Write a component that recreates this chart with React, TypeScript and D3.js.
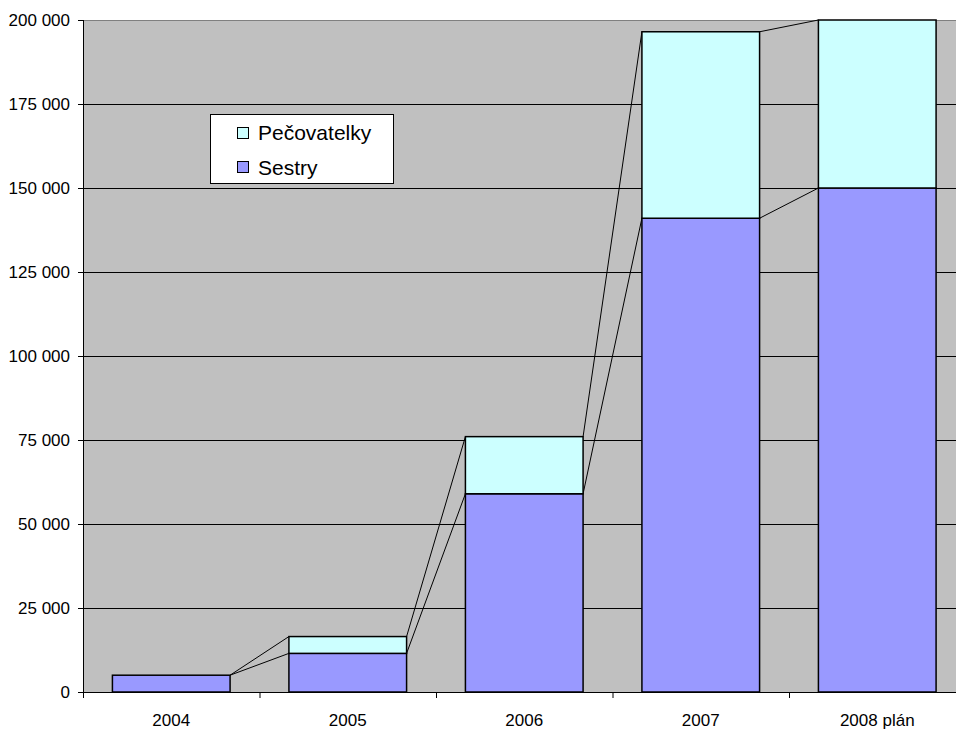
import React from "react";
import * as d3 from "d3";

const categories = ["2004", "2005", "2006", "2007", "2008 plán"];
const sestry = [5000, 11500, 59000, 141000, 150000];
const pecovatelky = [0, 5000, 17000, 55500, 50000];
const yTicks = [0, 25000, 50000, 75000, 100000, 125000, 150000, 175000, 200000];
const seriesNames = ["Sestry", "Pečovatelky"];
const seriesColors = ["#9999ff", "#ccffff"];

const W = 956;
const H = 729;
const left = 83;
const top = 20;
const bottom = 692;
const band = 176.5;

const fmt = d3.formatLocale({ decimal: ",", thousands: " ", grouping: [3], currency: ["", ""] }).format(",d");

export default function App() {
  const x = d3
    .scaleBand<string>()
    .domain(categories)
    .range([left, left + band * categories.length])
    .paddingInner(1 / 3)
    .paddingOuter(1 / 6);
  const barW = x.bandwidth();
  const bx = (i: number) => x(categories[i]) as number;
  const y = d3.scaleLinear().domain([0, 200000]).range([bottom, top]);

  const rows = categories.map((c, i) => ({ c, Sestry: sestry[i], Pečovatelky: pecovatelky[i] }));
  const stack = d3.stack<any>().keys(seriesNames)(rows);

  const font = "Liberation Sans, Arial, sans-serif";

  return (
    <svg width={W} height={H} style={{ position: "absolute", left: 0, top: 0, background: "#fff" }}>
      <rect x={left} y={top} width={W - left} height={bottom - top} fill="#c0c0c0" />
      <line x1={left} x2={W} y1={top + 0.5} y2={top + 0.5} stroke="#808080" strokeWidth={1} />
      {yTicks.slice(1, -1).map((t) => (
        <line key={t} x1={left} x2={W} y1={Math.round(y(t)) + 0.5} y2={Math.round(y(t)) + 0.5} stroke="#000" strokeWidth={1} />
      ))}
      {stack.map((s, si) =>
        s.slice(0, -1).map((d, i) => (
          <line
            key={si + "-" + i}
            x1={bx(i) + barW}
            y1={y(d[1])}
            x2={bx(i + 1)}
            y2={y(s[i + 1][1])}
            stroke="#000"
            strokeWidth={1}
          />
        ))
      )}
      {stack.map((s, si) =>
        s.map((d, i) =>
          d[1] - d[0] > 0 ? (
            <rect
              key={si + "-" + i}
              x={bx(i)}
              y={y(d[1])}
              width={barW}
              height={y(d[0]) - y(d[1])}
              fill={seriesColors[si]}
              stroke="#000"
              strokeWidth={1.5}
            />
          ) : null
        )
      )}
      <line x1={left + 0.5} x2={left + 0.5} y1={top} y2={bottom} stroke="#000" />
      <line x1={left - 5} x2={W} y1={bottom + 0.5} y2={bottom + 0.5} stroke="#000" />
      {yTicks.map((t) => (
        <g key={t}>
          <line x1={left - 5} x2={left} y1={Math.round(y(t)) + 0.5} y2={Math.round(y(t)) + 0.5} stroke="#000" />
          <text x={70} y={y(t)} dy="0.35em" textAnchor="end" fontFamily={font} fontSize={17} fill="#000">
            {fmt(t)}
          </text>
        </g>
      ))}
      {categories.map((c, i) => (
        <g key={c}>
          <line x1={left + i * band + 0.5} x2={left + i * band + 0.5} y1={bottom} y2={bottom + 6} stroke="#000" />
          <text x={left + i * band + band / 2} y={726} textAnchor="middle" fontFamily={font} fontSize={17} fill="#000">
            {c}
          </text>
        </g>
      ))}
      <rect x={210.5} y={114.5} width={183} height={69} fill="#fff" stroke="#000" strokeWidth={1} />
      {[1, 0].map((si, k) => (
        <g key={si}>
          <rect x={237.5} y={127.5 + k * 34} width={11} height={11} fill={seriesColors[si]} stroke="#000" strokeWidth={1} />
          <text x={258} y={133 + k * 35} dy="0.35em" fontFamily={font} fontSize={21} fill="#000">
            {seriesNames[si]}
          </text>
        </g>
      ))}
    </svg>
  );
}
